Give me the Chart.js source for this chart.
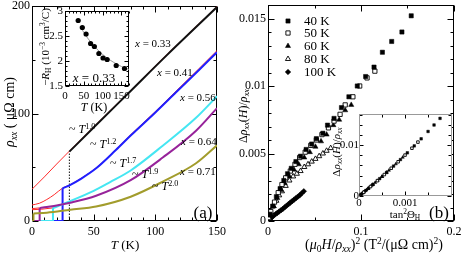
<!DOCTYPE html>
<html><head><meta charset="utf-8">
<script src="https://cdn.jsdelivr.net/npm/chart.js@4.4.1/dist/chart.umd.min.js"></script>
<style>
html,body{margin:0;padding:0;background:#fff;}
#wrap{position:relative;width:463px;height:254px;overflow:hidden;background:#fff;}
canvas{position:absolute;}
.t{position:absolute;white-space:nowrap;line-height:1;font-family:'Liberation Serif','DejaVu Serif',serif;color:#000;}
.c{transform:translate(-50%,-50%);}
.l{transform:translate(0,-50%);}
.r{transform:translate(-50%,-50%) rotate(-90deg);}
.sb{font-size:0.68em;position:relative;top:0.3em;}
.sp{font-size:0.68em;position:relative;top:-0.5em;}
</style></head><body>
<div id="wrap">
<canvas id="ca" width="231" height="254" style="left:0;top:0"></canvas>
<canvas id="cb" width="232" height="254" style="left:231px;top:0"></canvas>
<canvas id="ia" width="110" height="115" style="left:30px;top:0"></canvas>
<canvas id="ib" width="140" height="125" style="left:320px;top:100px"></canvas>

<div class="t r" style="left:10px;top:112px;font-size:14px"><i>ρ</i><span class="sb"><i>xx</i></span> ( μΩ cm)</div>
<div class="t c" style="left:125px;top:244px;font-size:13px"><i>T</i> (K)</div>
<div class="t l" style="left:135px;top:43px;font-size:11px"><i>x</i> = 0.33</div>
<div class="t l" style="left:157px;top:72px;font-size:11px"><i>x</i> = 0.41</div>
<div class="t l" style="left:180px;top:97px;font-size:11px"><i>x</i> = 0.56</div>
<div class="t l" style="left:181px;top:141px;font-size:11px"><i>x</i> = 0.64</div>
<div class="t l" style="left:180px;top:171px;font-size:11px"><i>x</i> = 0.71</div>
<div class="t l" style="left:69px;top:129px;font-size:12px">~ <i>T</i><span class="sp">1.0</span></div>
<div class="t l" style="left:90px;top:144px;font-size:12px">~ <i>T</i><span class="sp">1.2</span></div>
<div class="t l" style="left:110px;top:163px;font-size:12px">~ <i>T</i><span class="sp">1.7</span></div>
<div class="t l" style="left:132px;top:174px;font-size:12px">~ <i>T</i><span class="sp">1.9</span></div>
<div class="t l" style="left:152px;top:186px;font-size:12px">~ <i>T</i><span class="sp">2.0</span></div>
<div class="t c" style="left:203px;top:212px;font-size:17px">(a)</div>
<div class="t r" style="left:45px;top:47px;font-size:11px">−<i>R</i><span class="sb">H</span> (10<span class="sp">−3</span> cm<span class="sp">3</span>/C)</div>
<div class="t c" style="left:94px;top:107px;font-size:12px"><i>T</i> (K)</div>
<div class="t c" style="left:94px;top:77px;font-size:13px"><i>x</i> = 0.33</div>

<div class="t r" style="left:243px;top:116px;font-size:12px">Δ<i>ρ</i><span class="sb"><i>xx</i></span>(<i>H</i>)/<i>ρ</i><span class="sb"><i>xx</i></span></div>
<div class="t c" style="left:374px;top:245px;font-size:14px">(<i>μ</i><span class="sb">0</span><i>H</i>/<i>ρ</i><span class="sb"><i>xx</i></span>)<span class="sp">2</span> (T<span class="sp">2</span>/(μΩ cm)<span class="sp">2</span>)</div>
<div class="t r" style="left:336px;top:152px;font-size:11px">Δ<i>ρ</i><span class="sb"><i>xx</i></span>(<i>H</i>)/<i>ρ</i><span class="sb"><i>xx</i></span></div>
<div class="t c" style="left:405px;top:214px;font-size:11px">tan<span class="sp">2</span>Θ<span class="sb">H</span></div>
<div class="t c" style="left:439px;top:212px;font-size:17px">(b)</div>
</div>
<script>
// ---------- Panel (a): resistivity curves (T in K, rho in μΩ cm) ----------
const T_033 = [30.3, 50, 80, 110, 150];
const R_033 = [64.5, 87, 121, 155, 199];
const T_033H = [0, 10, 20, 30.3, 50, 80, 110, 150];
const R_033H = [29.5, 41, 53, 65, 87.5, 121.5, 155.5, 199.5];
const T_041 = [24.8, 30, 40, 52, 68, 80, 100, 117, 135, 150];
const R_041 = [30.4, 33, 39.5, 49, 66, 79.5, 101, 120, 140, 157];
const T_041H = [0, 6, 12, 18, 24.8, 30, 40, 52, 68, 80, 100, 117, 135, 150];
const R_041H = [14.9, 16.5, 20, 24.5, 30.6, 33.2, 39.8, 49.4, 66.5, 80.2, 101.8, 121, 141.3, 158.5];
const T_056 = [17, 30, 50, 63, 80, 106, 133, 150];
const R_056 = [12, 18, 28, 36, 47, 70, 96, 116];
const T_056H = [0, 8, 17];
const R_056H = [10.5, 11, 12.2];
const T_064 = [6.2, 10, 20, 31, 52, 80, 106, 133, 150];
const R_064 = [12, 12.8, 14.5, 17, 23.5, 38, 59, 84, 105];
const T_064H = [0, 6.2];
const R_064H = [11.5, 12.2];
const T_071 = [1.2, 12, 31, 52, 80, 106, 133, 150];
const R_071 = [7, 7.7, 10.5, 13.5, 22.6, 36.6, 53.7, 70.4];
const TC = [30.3, 24.7, 16.8, 6.1, 1.1]; // x = 0.33, 0.41, 0.56, 0.64, 0.71
const A_X_LABELS = [0, 50, 100, 150];
const A_Y_LABELS = [0, 100, 200];
// inset (a): Hall coefficient
const RH_T = [35, 46, 56, 68, 78, 90, 101, 112, 136, 158];
const RH_V = [2.81, 2.67, 2.54, 2.35, 2.29, 2.15, 2.06, 2.03, 1.91, 1.85];
const FIT_T = [40, 50, 60, 75, 90, 110, 130, 150, 170];
const FIT_V = [2.70, 2.57, 2.46, 2.32, 2.20, 2.07, 1.97, 1.89, 1.83];
const IA_X_LABELS = [0, 50, 100, 150];
const IA_Y_LABELS = [1.5, 2, 2.5, 3];

// ---------- Panel (b): magnetoresistance ----------
const SERIES_B = ['40 K', '50 K', '60 K', '80 K', '100 K'];
const X40 = [0.002,0.005,0.009,0.013,0.017,0.021,0.025,0.030,0.035,0.041,0.047,0.052,0.059,0.064,0.071,0.079,0.087,0.096,0.105,0.114,0.123,0.133,0.144,0.154];
const Y40 = [0.0005,0.0011,0.0018,0.0024,0.0030,0.0035,0.0039,0.0044,0.0048,0.0053,0.0057,0.0061,0.0065,0.0071,0.0076,0.0084,0.0092,0.0100,0.0107,0.0114,0.0125,0.0133,0.0140,0.0152];
const X50 = [0.003,0.007,0.011,0.015,0.019,0.024,0.029,0.034,0.040,0.046,0.052,0.058,0.065,0.071,0.0775,0.083,0.0913,0.0986,0.1065,0.1149];
const Y50 = [0.0007,0.0014,0.0021,0.0027,0.0032,0.0037,0.0042,0.0047,0.0051,0.0056,0.0060,0.0064,0.0069,0.0074,0.0079,0.0086,0.0092,0.0100,0.0106,0.0111];
const X60 = [0.002,0.006,0.010,0.014,0.018,0.023,0.028,0.033,0.039,0.045,0.051,0.057,0.063,0.0703,0.0765,0.083,0.0895];
const Y60 = [0.0004,0.0011,0.0017,0.0023,0.0028,0.0033,0.0038,0.0042,0.0047,0.0051,0.0055,0.0059,0.0064,0.0071,0.0075,0.0082,0.0086];
const X80 = [0.001,0.003,0.006,0.009,0.012,0.015,0.019,0.023,0.027,0.031,0.035,0.039,0.043,0.047,0.051,0.055,0.059,0.063,0.0674];
const Y80 = [0.0002,0.0006,0.0011,0.0015,0.0019,0.0022,0.0026,0.0030,0.0033,0.0035,0.0037,0.0040,0.0042,0.0044,0.0046,0.0048,0.0050,0.0052,0.0054];
const X100 = [0.0005,0.0015,0.003,0.0045,0.006,0.008,0.010,0.012,0.014,0.016,0.018,0.020,0.022,0.024,0.026,0.028,0.030,0.032,0.034,0.036,0.0385];
const Y100 = [0.00004,0.00011,0.0002,0.0003,0.0004,0.0005,0.0006,0.0007,0.0008,0.0009,0.00102,0.00113,0.00125,0.00136,0.00147,0.00158,0.00169,0.0018,0.0019,0.00204,0.0022];
const B_X_LABELS = [0, 0.1, 0.2];
const B_Y_LABELS = [0, 0.005, 0.01, 0.015];
// inset (b): vs tan^2 Theta_H
const IX40 = [0.00005,0.00015,0.0003,0.00045,0.0006,0.00075,0.0009,0.00105,0.0012,0.00135,0.0015,0.00163,0.00176];
const IY40 = [0.00036,0.0011,0.00224,0.00341,0.00462,0.00587,0.00715,0.00848,0.00984,0.01123,0.01267,0.01394,0.01524];
const IX50 = [0.0001,0.00025,0.0004,0.00055,0.0007,0.00085,0.001,0.00115,0.00128];
const IY50 = [0.00073,0.00185,0.00301,0.00421,0.00545,0.00672,0.00803,0.00938,0.01058];
const IX60 = [0.00008,0.0002,0.00035,0.0005,0.00065,0.0008,0.00095];
const IY60 = [0.00058,0.00147,0.00262,0.00381,0.00503,0.00629,0.00759];
const IX80 = [0.00003,0.0001,0.0002,0.0003,0.0004,0.0005,0.0006];
const IY80 = [0.00022,0.00073,0.00147,0.00224,0.00301,0.00381,0.00462];
const IX100 = [0.00001,0.00003,0.00006,0.0001,0.00014,0.00018,0.00022,0.00026,0.0003];
const IY100 = [0.00007,0.00022,0.00043,0.00073,0.00102,0.00132,0.00162,0.00193,0.00224];
const IB_X_LABELS = [0, 0.001];
const IB_Y_LABELS = [0, 0.01];

// ---------- helpers ----------
const FONT = "'Liberation Serif','DejaVu Serif',serif";
const pts = (xs, ys) => xs.map((x, i) => ({x: x, y: ys[i]}));
function isLab(v, labels, step){ return labels.some(l => Math.abs(l - v) < step * 1e-3); }
function fmt(v){ return String(parseFloat(v.toPrecision(10))); }
function makeTicks(min, max, step){
  const out = []; const n = Math.round((max - min) / step);
  for (let i = 0; i <= n; i++) out.push({value: parseFloat((min + i * step).toPrecision(10))});
  return out;
}
function axis(min, max, step, labels, pad, size, fit, isX){
  return {
    type: 'linear', min: min, max: max,
    afterBuildTicks: s => { s.ticks = makeTicks(min, max, step); },
    ticks: {autoSkip: false, maxRotation: 0, minRotation: 0, padding: pad, color: '#000',
      font: {family: FONT, size: size},
      callback: v => isLab(v, labels, step) ? fmt(v) : ''},
    grid: {display: false, drawTicks: false}, border: {display: false},
    afterFit: s => { if (isX) s.height = fit; else s.width = fit;
      s.paddingLeft = s.paddingRight = s.paddingTop = s.paddingBottom = 0; }
  };
}
const frame = {
  id: 'frame',
  beforeDatasetsDraw(chart, args, o){
    const {ctx, chartArea: a, scales} = chart;
    ctx.save();
    if (o.fill){ ctx.fillStyle = o.fill; ctx.fillRect(a.left, a.top, a.right - a.left, a.bottom - a.top); }
    const L = Math.round(a.left) + 0.5, R = Math.round(a.right) - 0.5,
          T = Math.round(a.top) + 0.5, B = Math.round(a.bottom) - 0.5;
    ctx.lineWidth = 1; ctx.strokeStyle = o.tickColor || '#000';
    ctx.beginPath();
    scales.x.ticks.forEach(t => {
      const p = Math.round(scales.x.getPixelForValue(t.value)) + 0.5;
      const len = isLab(t.value, o.xMaj, o.xStep) ? o.major : o.minor;
      ctx.moveTo(p, B); ctx.lineTo(p, B - len); ctx.moveTo(p, T); ctx.lineTo(p, T + len);
    });
    scales.y.ticks.forEach(t => {
      const p = Math.round(scales.y.getPixelForValue(t.value)) + 0.5;
      const len = isLab(t.value, o.yMaj, o.yStep) ? o.major : o.minor;
      ctx.moveTo(L, p); ctx.lineTo(L + len, p); ctx.moveTo(R, p); ctx.lineTo(R - len, p);
    });
    ctx.stroke();
    ctx.strokeStyle = o.frameColor || '#000';
    ctx.strokeRect(L, T, R - L, B - T);
    ctx.restore();
  }
};
function markerPath(ctx, style, x, y, r){
  ctx.beginPath();
  if (style === 'rect'){ const s = r * Math.SQRT1_2; ctx.rect(x - s, y - s, 2 * s, 2 * s); }
  else if (style === 'triangle'){
    let rad = 0;
    ctx.moveTo(x + Math.sin(rad) * r, y - Math.cos(rad) * r); rad += 2 * Math.PI / 3;
    ctx.lineTo(x + Math.sin(rad) * r, y - Math.cos(rad) * r); rad += 2 * Math.PI / 3;
    ctx.lineTo(x + Math.sin(rad) * r, y - Math.cos(rad) * r); ctx.closePath();
  } else { ctx.moveTo(x, y - r); ctx.lineTo(x + r, y); ctx.lineTo(x, y + r); ctx.lineTo(x - r, y); ctx.closePath(); }
}
const legendB = {
  id: 'legendB',
  afterDatasetsDraw(chart, args, o){
    const ctx = chart.ctx; ctx.save();
    ctx.font = '13px ' + FONT; ctx.textBaseline = 'middle'; ctx.fillStyle = '#000';
    chart.data.datasets.forEach((d, i) => {
      const y = o.rows[i];
      markerPath(ctx, d.pointStyle, o.mx, y, d.pointRadius);
      ctx.fillStyle = d.backgroundColor; ctx.fill();
      ctx.lineWidth = d.borderWidth; ctx.strokeStyle = '#000'; ctx.stroke();
      ctx.fillStyle = '#000'; ctx.fillText(d.label, o.tx, y + 0.5);
    });
    ctx.restore();
  }
};
const base = {responsive: false, animation: false, events: [],
  plugins: {legend: {display: false}, tooltip: {enabled: false}}};

// ---------- chart (a) ----------
function curve(label, xs, ys, color, w, order, extra){
  return Object.assign({label: label, data: pts(xs, ys), showLine: true, borderColor: color,
    backgroundColor: color, borderWidth: w, pointRadius: 0, cubicInterpolationMode: 'monotone',
    order: order}, extra || {});
}
function step(label, tc, t0, r0, color, order){
  return {label: label, data: [{x: 0, y: 0}, {x: tc, y: 0}, {x: t0, y: r0}], showLine: true,
    borderColor: color, borderWidth: 2, pointRadius: 0, tension: 0, order: order};
}
const RED = '#ff2a2a', BLACK = '#111', BLUE = '#1f1fff', CYAN = '#45e6f2', PURPLE = '#97239a', OLIVE = '#a29c2c';
new Chart(document.getElementById('ca'), {
  type: 'scatter',
  data: {datasets: [
    curve('x=0.33 H', T_033H, R_033H, RED, 1, 20),
    curve('x=0.41 H', T_041H, R_041H, RED, 1, 20),
    curve('x=0.56 H', T_056H, R_056H, RED, 1, 20),
    curve('x=0.64 H', T_064H, R_064H, RED, 1, 20),
    curve('x=0.33', T_033, R_033, BLACK, 2, 9),
    {label: 'x=0.33 Tc', data: [{x: TC[0], y: 0}, {x: T_033[0], y: R_033[0]}], showLine: true,
      borderColor: BLACK, borderWidth: 1, borderDash: [1.5, 1.5], pointRadius: 0, order: 9},
    step('x=0.41 sc', TC[1], T_041[0], R_041[0], BLUE, 8),
    curve('x=0.41', T_041, R_041, BLUE, 2, 8),
    step('x=0.56 sc', TC[2], T_056[0], R_056[0], CYAN, 7),
    curve('x=0.56', T_056, R_056, CYAN, 2, 7),
    step('x=0.64 sc', TC[3], T_064[0], R_064[0], PURPLE, 6),
    curve('x=0.64', T_064, R_064, PURPLE, 2, 6),
    step('x=0.71 sc', TC[4], T_071[0], R_071[0], OLIVE, 5),
    curve('x=0.71', T_071, R_071, OLIVE, 2, 5)
  ]},
  options: Object.assign({}, base, {
    layout: {padding: {left: 0, top: 6, right: 14, bottom: 0}},
    scales: {x: axis(0, 150, 10, A_X_LABELS, 4, 12, 33, true),
             y: axis(0, 200, 50, A_Y_LABELS, 2, 12, 32, false)},
    plugins: Object.assign({}, base.plugins, {frame: {xMaj: A_X_LABELS, xStep: 10, yMaj: A_Y_LABELS, yStep: 50, major: 6, minor: 3}})
  }),
  plugins: [frame]
});

// ---------- inset (a) ----------
new Chart(document.getElementById('ia'), {
  type: 'scatter',
  data: {datasets: [
    {label: 'R_H', data: pts(RH_T, RH_V), pointRadius: 2.6, backgroundColor: '#000', borderColor: '#000', borderWidth: 0, order: 1},
    {label: 'fit', data: pts(FIT_T, FIT_V), showLine: true, borderColor: '#9a9a9a', borderWidth: 1, pointRadius: 0, cubicInterpolationMode: 'monotone', order: 2}
  ]},
  options: Object.assign({}, base, {
    layout: {padding: {left: 0, top: 11, right: 11, bottom: 0}},
    scales: {x: axis(0, 170, 10, IA_X_LABELS, 4, 11, 29, true),
             y: axis(1.5, 3, 0.1, IA_Y_LABELS, 2, 11, 35, false)},
    plugins: Object.assign({}, base.plugins, {frame: {fill: '#fff', xMaj: IA_X_LABELS, xStep: 10, yMaj: IA_Y_LABELS, yStep: 0.1, major: 4, minor: 2}})
  }),
  plugins: [frame]
});

// ---------- chart (b) ----------
function sc(label, xs, ys, style, filled, r){
  return {label: label, data: pts(xs, ys), pointStyle: style, pointRadius: r,
    backgroundColor: filled ? '#000' : '#fff', borderColor: '#000', borderWidth: filled ? 0.5 : 0.9};
}
new Chart(document.getElementById('cb'), {
  type: 'scatter',
  data: {datasets: [
    sc(SERIES_B[0], X40, Y40, 'rect', true, 3),
    sc(SERIES_B[1], X50, Y50, 'rect', false, 3),
    sc(SERIES_B[2], X60, Y60, 'triangle', true, 3),
    sc(SERIES_B[3], X80, Y80, 'triangle', false, 3),
    sc(SERIES_B[4], X100, Y100, 'rectRot', true, 2.8)
  ]},
  options: Object.assign({}, base, {
    layout: {padding: {left: 0, top: 5, right: 9, bottom: 0}},
    scales: {x: axis(0, 0.2, 0.05, B_X_LABELS, 4, 12, 33, true),
             y: axis(0, 0.016, 0.001, B_Y_LABELS, 2, 12, 37, false)},
    plugins: Object.assign({}, base.plugins, {
      frame: {xMaj: B_X_LABELS, xStep: 0.05, yMaj: B_Y_LABELS, yStep: 0.001, major: 6, minor: 3},
      legendB: {mx: 57, tx: 73, rows: [21, 33, 46, 59, 72]}})
  }),
  plugins: [frame, legendB]
});

// ---------- inset (b) ----------
new Chart(document.getElementById('ib'), {
  type: 'scatter',
  data: {datasets: [
    sc(SERIES_B[0], IX40, IY40, 'rect', true, 1.8),
    sc(SERIES_B[1], IX50, IY50, 'rect', false, 1.8),
    sc(SERIES_B[2], IX60, IY60, 'triangle', true, 1.8),
    sc(SERIES_B[3], IX80, IY80, 'triangle', false, 1.8),
    sc(SERIES_B[4], IX100, IY100, 'rectRot', true, 1.6)
  ]},
  options: Object.assign({}, base, {
    layout: {padding: {left: 0, top: 14, right: 8, bottom: 0}},
    scales: {x: axis(0, 0.00202, 0.0005, IB_X_LABELS, 1, 11, 29, true),
             y: axis(0, 0.0161, 0.002, IB_Y_LABELS, 0, 11, 39, false)},
    plugins: Object.assign({}, base.plugins, {frame: {fill: '#fff', frameColor: '#999', xMaj: IB_X_LABELS, xStep: 0.0005, yMaj: IB_Y_LABELS, yStep: 0.002, major: 4, minor: 3}})
  }),
  plugins: [frame]
});
</script>
</body></html>
